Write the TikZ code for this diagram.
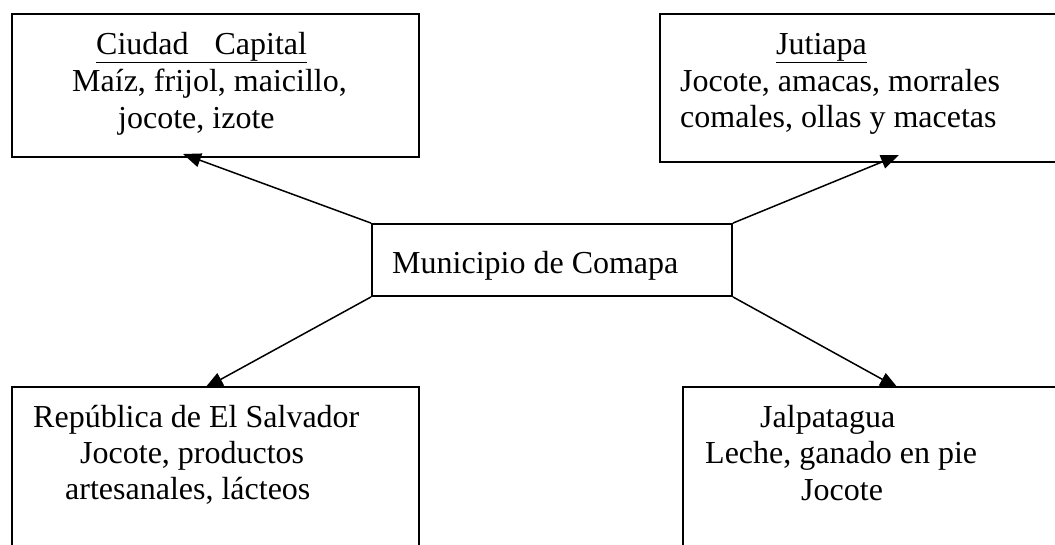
\documentclass[tikz,border=0pt]{standalone}
\usepackage{fontspec}
\setmainfont{Liberation Serif}
\usetikzlibrary{arrows.meta}
\begin{document}
\begin{tikzpicture}[x=1pt,y=-1pt,
  boxstyle/.style={draw, line width=1.8pt, rectangle, inner sep=0pt},
  txt/.style={anchor=base west, inner sep=0pt, font=\fontsize{32}{37}\selectfont},
  link/.style={line width=1.5pt, -{Triangle[length=18pt,width=14pt]}}]
\clip (0,0) rectangle (1055,544);
% boxes
\node[boxstyle, minimum width=407pt, minimum height=143pt] (cap) at (215.5,85.5) {};
\node[boxstyle, minimum width=401pt, minimum height=148pt] (jut) at (860.5,88) {};
\node[boxstyle, minimum width=360pt, minimum height=72pt] (com) at (552,260) {};
\node[boxstyle, minimum width=407pt, minimum height=173pt] (sal) at (215.5,473.5) {};
\node[boxstyle, minimum width=377pt, minimum height=173pt] (jal) at (871.5,473.5) {};
% texts
\node[txt] (cap1) at (96,54) {\underline{Ciudad\hspace{26pt}Capital}};
\node[txt] (cap2) at (72,91) {Maíz, frijol, maicillo,};
\node[txt] (cap3) at (118,128) {jocote, izote};
\node[txt] (jut1) at (776,54) {\underline{Jutiapa}};
\node[txt] (jut2) at (680,91) {Jocote, amacas, morrales};
\node[txt] (jut3) at (680,127) {comales, ollas y macetas};
\node[txt] (com1) at (392,273) {Municipio de Comapa};
\node[txt] (sal1) at (33,427) {República de El Salvador};
\node[txt] (sal2) at (80,463) {Jocote, productos};
\node[txt] (sal3) at (65,499) {artesanales, lácteos};
\node[txt] (jal1) at (760,427) {Jalpatagua};
\node[txt] (jal2) at (705,463) {Leche, ganado en pie};
\node[txt] (jal3) at (801,500) {Jocote};
% arrow ends
\coordinate (capin) at (183,154);
\coordinate (jutin) at (899,155);
\coordinate (salin) at (205,388);
\coordinate (jalin) at (898,388);
\draw[link] (com.north west) -- (capin);
\draw[link] (com.north east) -- (jutin);
\draw[link] (com.south west) -- (salin);
\draw[link] (com.south east) -- (jalin);
\end{tikzpicture}
\end{document}
